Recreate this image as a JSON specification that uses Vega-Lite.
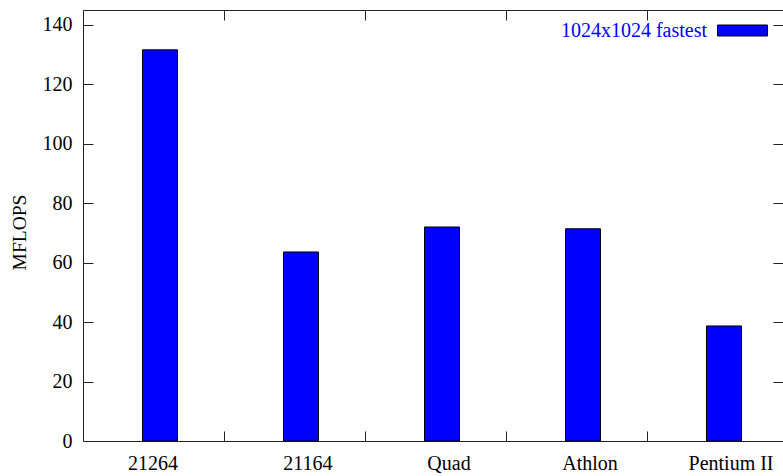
{
  "$schema": "https://vega.github.io/schema/vega-lite/v6.json",
  "width": 700,
  "height": 431,
  "autosize": "none",
  "padding": {"left": 83, "top": 10, "right": 0, "bottom": 35},
  "background": "white",
  "config": {
    "view": {"stroke": "#222", "strokeWidth": 1},
    "font": "Liberation Serif",
    "axis": {"grid": false, "domain": false, "tickColor": "#222", "tickWidth": 1, "labelFont": "Liberation Serif", "labelFontSize": 20, "labelColor": "black", "titleFont": "Liberation Serif", "titleFontSize": 19.5, "titleFontWeight": "normal", "titleColor": "black"}
  },
  "data": {"values": [
    {"cpu": "21264", "mflops": 131.6},
    {"cpu": "21164", "mflops": 63.6},
    {"cpu": "Quad", "mflops": 72.0},
    {"cpu": "Athlon", "mflops": 71.4},
    {"cpu": "Pentium II", "mflops": 38.7}
  ]},
  "layer": [
    {
      "mark": {"type": "bar", "stroke": "black", "strokeWidth": 1},
      "encoding": {
        "x": {"field": "cpu", "type": "nominal", "sort": null,
          "scale": {"paddingInner": 0.752, "paddingOuter": 0.358, "align": 0.589},
          "axis": {"orient": "bottom", "title": null, "labelAngle": 0, "ticks": false,
            "labelBaseline": "alphabetic", "labelPadding": 28,
            "labelOffset": {"condition": {"test": "datum.label == '21264'", "value": -7}, "value": 7}}},
        "y": {"field": "mflops", "type": "quantitative",
          "scale": {"domain": [0, 145], "nice": false, "zero": true},
          "axis": {"orient": "left", "title": "MFLOPS", "values": [0, 20, 40, 60, 80, 100, 120, 140], "tickSize": -10, "labelPadding": 21, "titleX": -64, "titleY": 222, "titleBaseline": "middle", "titleAngle": -90}},
        "color": {"datum": "1024x1024 fastest", "type": "nominal",
          "scale": {"range": ["#0000ff"]},
          "legend": {"title": null, "orient": "none", "legendX": 634, "legendY": -5, "padding": 0,
            "labelFont": "Liberation Serif", "labelFontSize": 20, "labelColor": "#0000ff", "labelAlign": "right", "labelOffset": -61,
            "symbolType": "M-1,-0.22H1V0.22H-1Z", "symbolSize": 2500, "symbolStrokeColor": "black", "symbolStrokeWidth": 1, "symbolFillColor": "#0000ff"}}
      }
    },
    {
      "mark": {"type": "bar", "opacity": 0},
      "encoding": {
        "x": {"field": "cpu", "type": "nominal", "sort": null,
          "axis": {"orient": "top", "title": null, "labels": false, "tickOffset": 64, "tickSize": -10}},
        "y": {"field": "mflops", "type": "quantitative",
          "axis": {"orient": "right", "title": null, "labels": false, "values": [0, 20, 40, 60, 80, 100, 120, 140], "tickSize": -10}}
      }
    },
    {
      "mark": {"type": "bar", "opacity": 0},
      "encoding": {
        "x": {"field": "cpu", "type": "nominal", "sort": null,
          "axis": {"orient": "bottom", "title": null, "labels": false, "tickOffset": 64, "tickSize": -10}},
        "y": {"field": "mflops", "type": "quantitative", "axis": null}
      }
    }
  ],
  "resolve": {"axis": {"x": "independent", "y": "independent"}}
}
